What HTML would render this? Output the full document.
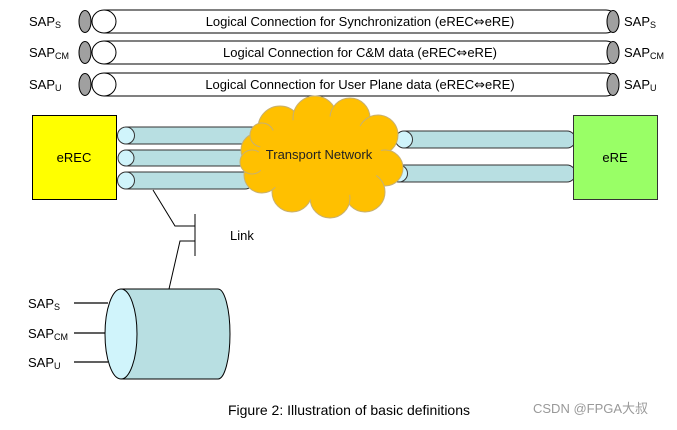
<!DOCTYPE html>
<html><head><style>
body{margin:0;background:#fff;}
svg text{font-family:"Liberation Sans","Noto Sans CJK SC",sans-serif;}
svg tspan.a{font-family:"DejaVu Sans",sans-serif;}
</style></head><body>
<svg width="677" height="425" viewBox="0 0 677 425" xmlns="http://www.w3.org/2000/svg">
<g font-size="13" fill="#000">
<g stroke="#000" stroke-width="1">
<path d="M104 10 H606 A11.5 11.5 0 0 1 606 33 H104" fill="#fff"/>
<path d="M104 41 H606 A11.5 11.5 0 0 1 606 64 H104" fill="#fff"/>
<path d="M104 73 H606 A11.5 11.5 0 0 1 606 96 H104" fill="#fff"/>
<ellipse cx="104" cy="21.5" rx="12" ry="11.5" fill="#fff"/>
<ellipse cx="104" cy="52.5" rx="12" ry="11.5" fill="#fff"/>
<ellipse cx="104" cy="84.5" rx="12" ry="11.5" fill="#fff"/>
<ellipse cx="85" cy="21.5" rx="6" ry="11" fill="#a0a0a0"/>
<ellipse cx="85" cy="52.5" rx="6" ry="11" fill="#a0a0a0"/>
<ellipse cx="85" cy="84.5" rx="6" ry="11" fill="#a0a0a0"/>
<ellipse cx="613" cy="21.5" rx="6" ry="11" fill="#a0a0a0"/>
<ellipse cx="613" cy="52.5" rx="6" ry="11" fill="#a0a0a0"/>
<ellipse cx="613" cy="84.5" rx="6" ry="11" fill="#a0a0a0"/>
</g>
<text x="360" y="26" text-anchor="middle">Logical Connection for Synchronization (eREC<tspan class="a">⇔</tspan>eRE)</text>
<text x="360" y="57" text-anchor="middle">Logical Connection for C&amp;M data (eREC<tspan class="a">⇔</tspan>eRE)</text>
<text x="360" y="89" text-anchor="middle">Logical Connection for User Plane data (eREC<tspan class="a">⇔</tspan>eRE)</text>
<text x="29" y="26">SAP<tspan font-size="9" dy="2">S</tspan></text>
<text x="29" y="57">SAP<tspan font-size="9" dy="2">CM</tspan></text>
<text x="29" y="89">SAP<tspan font-size="9" dy="2">U</tspan></text>
<text x="624" y="26">SAP<tspan font-size="9" dy="2">S</tspan></text>
<text x="624" y="57">SAP<tspan font-size="9" dy="2">CM</tspan></text>
<text x="624" y="89">SAP<tspan font-size="9" dy="2">U</tspan></text>

<rect x="32.5" y="115.5" width="84" height="84" fill="#ffff00" stroke="#000"/>
<text x="74" y="162" text-anchor="middle">eREC</text>
<g stroke="#333" stroke-width="1" fill="#b8dfe2">
<path d="M126 127 H262 A8.5 8.5 0 0 1 262 144 H126 Z"/>
<path d="M126 150 H245 A8.5 8.5 0 0 1 245 166 H126 Z"/>
<path d="M126 172 H245 A8.5 8.5 0 0 1 245 189 H126 Z"/>
<circle cx="126" cy="135.5" r="8.5" fill="#d0f4fb"/>
<circle cx="126" cy="158" r="8" fill="#d0f4fb"/>
<circle cx="126" cy="180.5" r="8.5" fill="#d0f4fb"/>
<path d="M404 131 H567 A8.5 8.5 0 0 1 567 148 H404 Z"/>
<path d="M399 165 H567 A8.5 8.5 0 0 1 567 182 H399 Z"/>
<circle cx="404" cy="139.5" r="8.5" fill="#d0f4fb"/>
<circle cx="399" cy="173.5" r="8.5" fill="#d0f4fb"/>
</g>
<g fill="#ffc000" stroke="#c8b070" stroke-width="1">
<circle cx="280" cy="128" r="22"/>
<circle cx="315" cy="118" r="22"/>
<circle cx="350" cy="118" r="20"/>
<circle cx="378" cy="135" r="20"/>
<circle cx="385" cy="168" r="18"/>
<circle cx="365" cy="192" r="20"/>
<circle cx="330" cy="198" r="20"/>
<circle cx="292" cy="192" r="20"/>
<circle cx="262" cy="175" r="18"/>
<circle cx="258" cy="150" r="17"/>
<circle cx="252" cy="162" r="12"/>
<circle cx="262" cy="135" r="12"/>
</g>
<ellipse cx="320" cy="158" rx="62" ry="42" fill="#ffc000"/>
<text x="319" y="159" text-anchor="middle" fill="#222">Transport Network</text>
<rect x="573.5" y="115.5" width="84" height="84" fill="#99ff66" stroke="#333"/>
<text x="615" y="162" text-anchor="middle">eRE</text>

<g stroke="#000" stroke-width="1" fill="none">
<path d="M153 190 L175 226 H195"/>
<path d="M195 214 V256"/>
<path d="M195 241 H180 L169 289"/>
</g>
<text x="230" y="240">Link</text>

<path d="M121 289 H218 A12 45 0 0 1 218 379 H121 Z" fill="#b8dfe2" stroke="#000"/>
<ellipse cx="121" cy="334" rx="16" ry="45" fill="#d0f4fb" stroke="#000"/>
<g stroke="#000" stroke-width="1.3">
<line x1="74" y1="303" x2="108" y2="303"/>
<line x1="74" y1="333" x2="105" y2="333"/>
<line x1="74" y1="362" x2="108" y2="362"/>
</g>
<text x="28" y="308">SAP<tspan font-size="9" dy="2">S</tspan></text>
<text x="28" y="338">SAP<tspan font-size="9" dy="2">CM</tspan></text>
<text x="28" y="367">SAP<tspan font-size="9" dy="2">U</tspan></text>

<text x="349" y="415" text-anchor="middle" font-size="14">Figure 2: Illustration of basic definitions</text>
<text x="533" y="413" font-size="13" fill="#999">CSDN @FPGA大叔</text>
</g>
</svg>
</body></html>
